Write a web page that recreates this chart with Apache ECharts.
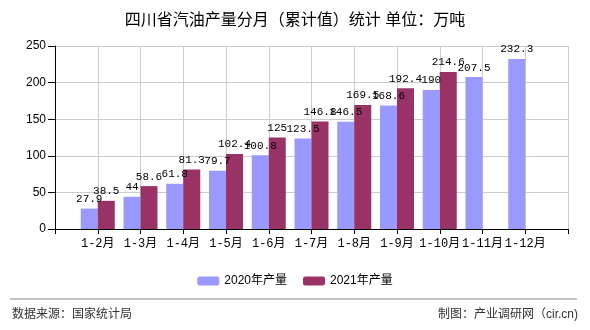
<!DOCTYPE html>
<html>
<head>
<meta charset="utf-8">
<script src="https://cdn.jsdelivr.net/npm/echarts@6/dist/echarts.min.js"></script>
<style>
html,body{margin:0;padding:0;background:#fff;}
#chart{width:590px;height:330px;}
</style>
</head>
<body>
<div id="chart"></div>
<script>
var categories = ["1-2月","1-3月","1-4月","1-5月","1-6月","1-7月","1-8月","1-9月","1-10月","1-11月","1-12月"];
var values2020 = [27.9, 44, 61.8, 79.7, 100.8, 123.5, 146.5, 168.6, 190, 207.5, 232.3];
var values2021 = [38.5, 58.6, 81.3, 102.4, 125, 146.8, 169.5, 192.4, 214.6, null, null];
var seriesNames = ["2020年产量", "2021年产量"];
var yTicks = [0, 50, 100, 150, 200, 250];

var mono = "'Liberation Mono','Noto Sans CJK SC',monospace";
var cjk = "'Liberation Sans','Noto Sans CJK SC',sans-serif";

// pad the axis with an empty slot at each end (the first/last ticks carry no month)
var axisCats = [""].concat(categories).concat([""]);
function pad(arr){ var a=[null].concat(arr); while(a.length<axisCats.length) a.push(null); return a; }

var chart = echarts.init(document.getElementById('chart'), null, {renderer:'canvas'});
var option = {
  animation: false,
  backgroundColor: '#fff',
  title: {
    text: '四川省汽油产量分月（累计值）统计 单位：万吨',
    left: 'center', top: 8,
    textStyle: {fontSize: 16, fontWeight: 'normal', color: '#000', fontFamily: cjk}
  },
  legend: {
    top: 270, left: 'center',
    itemWidth: 22, itemHeight: 9, itemGap: 16,
    textStyle: {fontSize: 12, color: '#000', fontFamily: cjk},
    data: seriesNames
  },
  grid: {left: 55, right: 22, top: 46, bottom: 101, containLabel: false},
  xAxis: {
    type: 'category',
    data: axisCats,
    boundaryGap: false,
    axisLine: {lineStyle: {color: '#000', width: 1}},
    axisTick: {show: true, interval: 0, length: 5, lineStyle: {color: '#000'}},
    axisLabel: {interval: 0, margin: 9, fontSize: 12, color: '#000', fontFamily: mono},
    splitLine: {show: true, interval: 0, lineStyle: {color: '#cccccc', width: 1}}
  },
  yAxis: {
    type: 'value',
    min: yTicks[0], max: yTicks[yTicks.length-1], interval: 50,
    axisLine: {show: true, lineStyle: {color: '#000', width: 1}},
    axisTick: {show: true, length: 7, lineStyle: {color: '#000'}},
    axisLabel: {fontSize: 12, color: '#000', margin: 9, fontFamily: cjk},
    splitLine: {show: true, lineStyle: {color: '#cccccc', width: 1}}
  },
  series: [
    {
      name: seriesNames[0], type: 'bar', data: pad(values2020),
      barWidth: 17, barGap: '0%',
      itemStyle: {color: '#9999ff'},
      label: {show: true, position: 'top', distance: 4, fontSize: 11, color: '#000', fontFamily: mono}
    },
    {
      name: seriesNames[1], type: 'bar', data: pad(values2021),
      barWidth: 17, barGap: '0%',
      itemStyle: {color: '#993366'},
      label: {show: true, position: 'top', distance: 4, fontSize: 11, color: '#000', fontFamily: mono}
    }
  ],
  graphic: [
    {type: 'line', shape: {x1: 10, y1: 299, x2: 577, y2: 299}, style: {stroke: '#888', lineWidth: 1}},
    {type: 'text', left: 12, top: 309, style: {text: '数据来源：国家统计局', fontSize: 12, fill: '#333', fontFamily: cjk}},
    {type: 'text', right: 12, top: 309, style: {text: '制图：产业调研网（cir.cn)', fontSize: 12, fill: '#333', fontFamily: cjk}}
  ]
};
chart.setOption(option);
</script>
</body>
</html>
